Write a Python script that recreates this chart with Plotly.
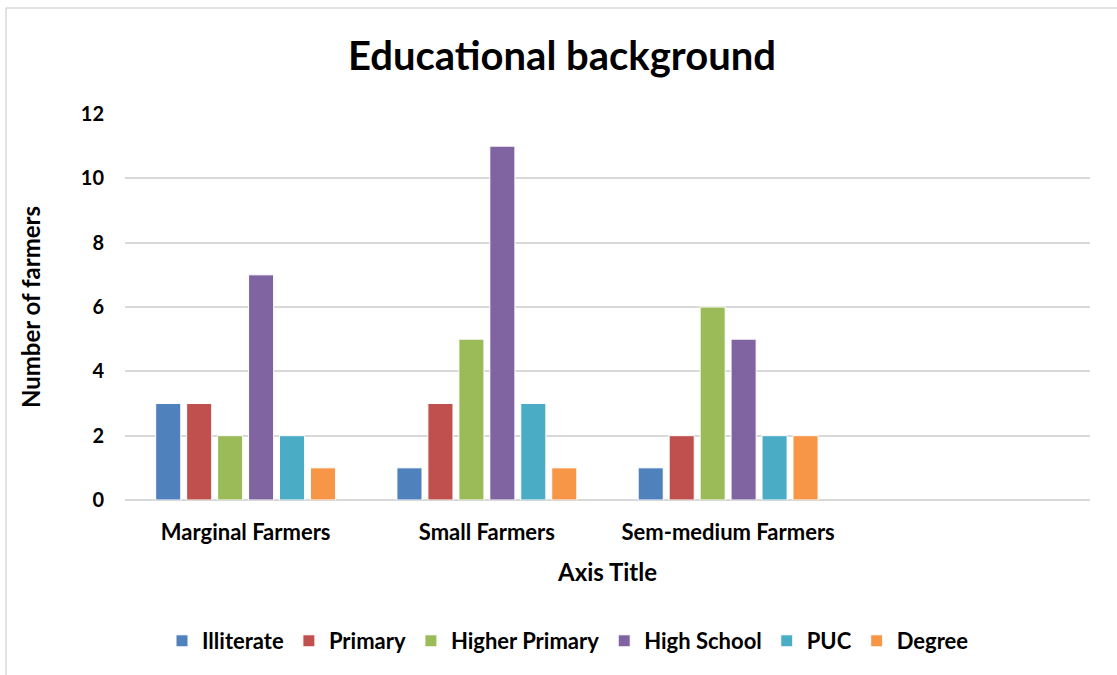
import plotly.graph_objects as go

categories = ["Marginal Farmers", "Small Farmers", "Sem-medium Farmers"]
series_names = ["Illiterate", "Primary", "Higher Primary", "High School", "PUC", "Degree"]
illiterate = [3, 1, 1]
primary = [3, 3, 2]
higher_primary = [2, 5, 6]
high_school = [7, 11, 5]
puc = [2, 3, 2]
degree = [1, 1, 2]
y_ticks = [0, 2, 4, 6, 8, 10, 12]

series_values = [illiterate, primary, higher_primary, high_school, puc, degree]
colors = ["#4f81bd", "#c0504d", "#9bbb59", "#8064a2", "#4bacc6", "#f79646"]

FONT = "Lato"
W, H = 1117, 675
L, R, T, B = 125, 27, 114, 175

fig = go.Figure()
for name, vals, col in zip(series_names, series_values, colors):
    fig.add_trace(go.Bar(
        x=categories, y=vals, name=f"<b>{name}</b>",
        marker=dict(color=col, line=dict(color="white", width=1)),
    ))

pw = W - L - R
ph = H - T - B

def px_x(p):
    return (p - L) / pw

def px_y(p):
    return (H - B - p) / ph

fig.update_layout(
    width=W, height=H,
    margin=dict(l=L, r=R, t=T, b=B),
    paper_bgcolor="white", plot_bgcolor="white",
    barmode="group", bargap=0.23, bargroupgap=0.19,
    font=dict(family=FONT, color="black"),
    title=dict(text="<b>Educational background</b>", x=(562 / W), xanchor="center",
               y=1 - 56 / H, yref="container", yanchor="middle",
               font=dict(size=40, family=FONT, color="black")),
    xaxis=dict(
        categoryorder="array", categoryarray=categories,
        range=[-0.5, 3.5],
        showgrid=False, showline=False, zeroline=False,
        ticks="", tickfont=dict(size=22, family=FONT, color="black"),
        ticklabelstandoff=17,
        title=dict(text="<b>Axis Title</b>", font=dict(size=24, family=FONT, color="black"),
                   standoff=20),
        tickprefix="<b>", ticksuffix="</b>",
    ),
    yaxis=dict(
        range=[0, 12], tickvals=y_ticks,
        ticktext=[f"<b>{v}</b>" for v in y_ticks],
        showgrid=True, gridcolor="#d9d9d9", gridwidth=1.5,
        zeroline=True, zerolinecolor="#d9d9d9", zerolinewidth=1.5,
        showline=False, ticks="", ticklen=0,
        ticklabelstandoff=20,
        tickfont=dict(size=20, family=FONT, color="black"),
        title=dict(text="<b>Number of farmers</b>", font=dict(size=24, family=FONT, color="black"),
                   standoff=33),
    ),
    legend=dict(
        orientation="h", x=px_x(568), xanchor="center",
        y=px_y(641), yanchor="middle",
        font=dict(size=22, family=FONT, color="black"),
        itemwidth=30, tracegroupgap=0,
    ),
    showlegend=True,
)

# chart frame (left and top edges visible)
fig.add_shape(type="line", xref="paper", yref="paper",
              x0=px_x(6), x1=px_x(6), y0=px_y(8), y1=px_y(H + 5),
              line=dict(color="#d9d9d9", width=1.5))
fig.add_shape(type="line", xref="paper", yref="paper",
              x0=px_x(6), x1=px_x(W + 5), y0=px_y(8), y1=px_y(8),
              line=dict(color="#d9d9d9", width=1.5))

fig.write_html("out.html")
